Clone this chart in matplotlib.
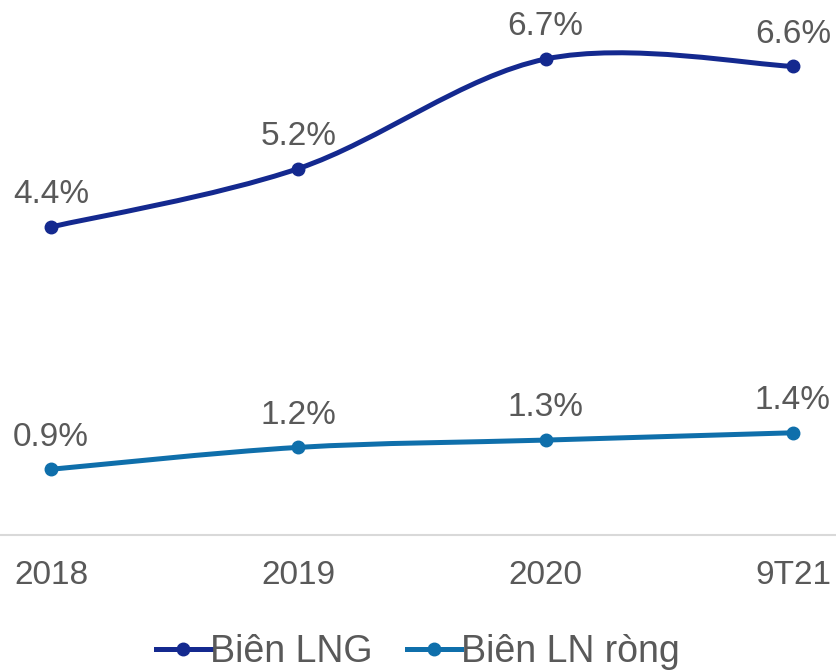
import matplotlib.pyplot as plt
from matplotlib.path import Path
from matplotlib.patches import PathPatch
import numpy as np

plt.rcParams['font.family'] = ['Liberation Sans', 'DejaVu Sans']

categories = ['2018', '2019', '2020', '9T21']
bien_lng = [4.4, 5.2, 6.7, 6.6]
bien_ln_rong = [0.9, 1.2, 1.3, 1.4]
series_names = ['Biên LNG', 'Biên LN ròng']
colors = ['#14298f', '#0f6fab']
text_color = '#595959'


def smooth_path(x, y):
    # cubic bezier segments like Excel's smoothed line
    pts = np.column_stack([x, y]).astype(float)
    n = len(pts)
    verts = [pts[0]]
    codes = [Path.MOVETO]
    for i in range(n - 1):
        p0 = pts[i - 1] if i > 0 else pts[i]
        p1 = pts[i]
        p2 = pts[i + 1]
        p3 = pts[i + 2] if i + 2 < n else pts[i + 1]
        c1 = p1 + (p2 - p0) / 6.0
        c2 = p2 - (p3 - p1) / 6.0
        verts += [c1, c2, p2]
        codes += [Path.CURVE4] * 3
    return Path(verts, codes)


fig = plt.figure(figsize=(8.36, 6.72), dpi=100)
ax = fig.add_axes([0, 0.2039, 1, 0.7961])
ax2 = ax.twinx()  # Biên LNG sits on the secondary axis
x = np.arange(len(categories))

for a, vals, col in zip([ax2, ax], [bien_lng, bien_ln_rong], colors):
    patch = PathPatch(smooth_path(x, vals), facecolor='none', edgecolor=col,
                      lw=3.6, capstyle='round', joinstyle='round', zorder=2)
    a.add_patch(patch)
    a.plot(x, vals, ls='none', marker='o', ms=9, color=col, zorder=3)
    for xi, v in zip(x, vals):
        a.annotate(f'{v:.1f}%', (xi, v), xytext=(0, 17), textcoords='offset points',
                   ha='center', va='baseline', fontsize=24, color=text_color,
                   annotation_clip=False)

# legend proxies
handles = [ax.plot([], [], color=c, lw=3.6, marker='o', ms=9)[0] for c in colors]

xlim = (-51 / 247.33, 785 / 247.33)
ax.set_xlim(*xlim)
ax2.set_xlim(*xlim)
ax.set_ylim(0, 535 / 73.0)
ax2.set_ylim(0.183, 7.508)
ax.set_xticks(x)
ax.set_xticklabels(categories, fontsize=24, color=text_color)
ax.tick_params(axis='x', length=0, pad=18)
ax.set_yticks([])
ax2.set_yticks([])
for a in [ax, ax2]:
    for s in ['top', 'left', 'right', 'bottom']:
        a.spines[s].set_visible(False)
ax.spines['bottom'].set_visible(True)
ax.spines['bottom'].set_color('#d9d9d9')
ax.spines['bottom'].set_linewidth(1.5)

fig.legend(handles, series_names, loc='center', bbox_to_anchor=(0.5, 0.03),
           ncol=2, frameon=False, fontsize=27, labelcolor=text_color,
           handlelength=1.45, handletextpad=0.0, columnspacing=0.9)

fig.savefig('out.png', dpi=100)
